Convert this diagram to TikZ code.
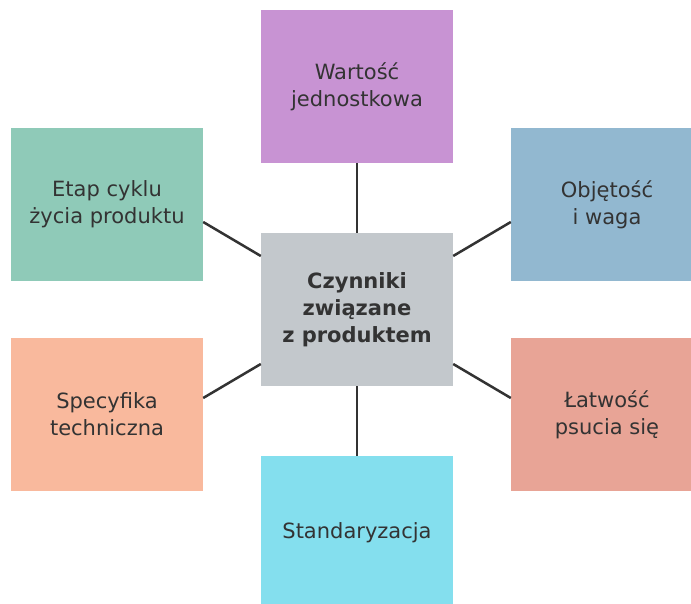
\documentclass[tikz,border=0pt]{standalone}
\usepackage{fontspec}
\setmainfont{DejaVu Sans}
\definecolor{txt}{HTML}{333333}
\definecolor{cgray}{HTML}{C3C8CC}
\definecolor{cpurple}{HTML}{C893D3}
\definecolor{cteal}{HTML}{8FCAB8}
\definecolor{cblue}{HTML}{92B8D0}
\definecolor{corange}{HTML}{F9B99D}
\definecolor{csalmon}{HTML}{E8A496}
\definecolor{ccyan}{HTML}{84DFEE}
\begin{document}
\begin{tikzpicture}[x=1pt,y=-1pt,
  box/.style={rectangle, minimum width=192pt, minimum height=153pt, inner sep=0pt, text=txt, align=center, font=\fontsize{21}{27}\selectfont},
  conn/.style={draw=txt, line width=2.5pt}]
\clip (0,0) rectangle (691,604);
\fill[white] (0,0) rectangle (691,604);
\node[box, fill=cgray, font=\fontsize{21}{27}\selectfont\bfseries] (c) at (357,309.5) {Czynniki\\związane\\z produktem};
\node[box, fill=cpurple] (t) at (357,86.5) {Wartość\\jednostkowa};
\node[box, fill=cteal] (lt) at (107,204.5) {Etap cyklu\\życia produktu};
\node[box, fill=cblue] (rt) at (607,204.5) {Objętość\\i waga};
\node[box, fill=corange] (lb) at (107,414.5) {Specyfika\\techniczna};
\node[box, fill=csalmon] (rb) at (607,414.5) {Łatwość\\psucia się};
\node[box, fill=ccyan] (b) at (357,532.5) {Standaryzacja};
\draw[conn] (t.south) -- (c.north);
\draw[conn] (c.south) -- (b.north);
\draw[conn] ([yshift=-17.5pt]lt.east) -- ([yshift=53.5pt]c.west);
\draw[conn] ([yshift=53.5pt]c.east) -- ([yshift=-17.5pt]rt.west);
\draw[conn] ([yshift=16.5pt]lb.east) -- ([yshift=-54.5pt]c.west);
\draw[conn] ([yshift=-54.5pt]c.east) -- ([yshift=16.5pt]rb.west);
\end{tikzpicture}
\end{document}
